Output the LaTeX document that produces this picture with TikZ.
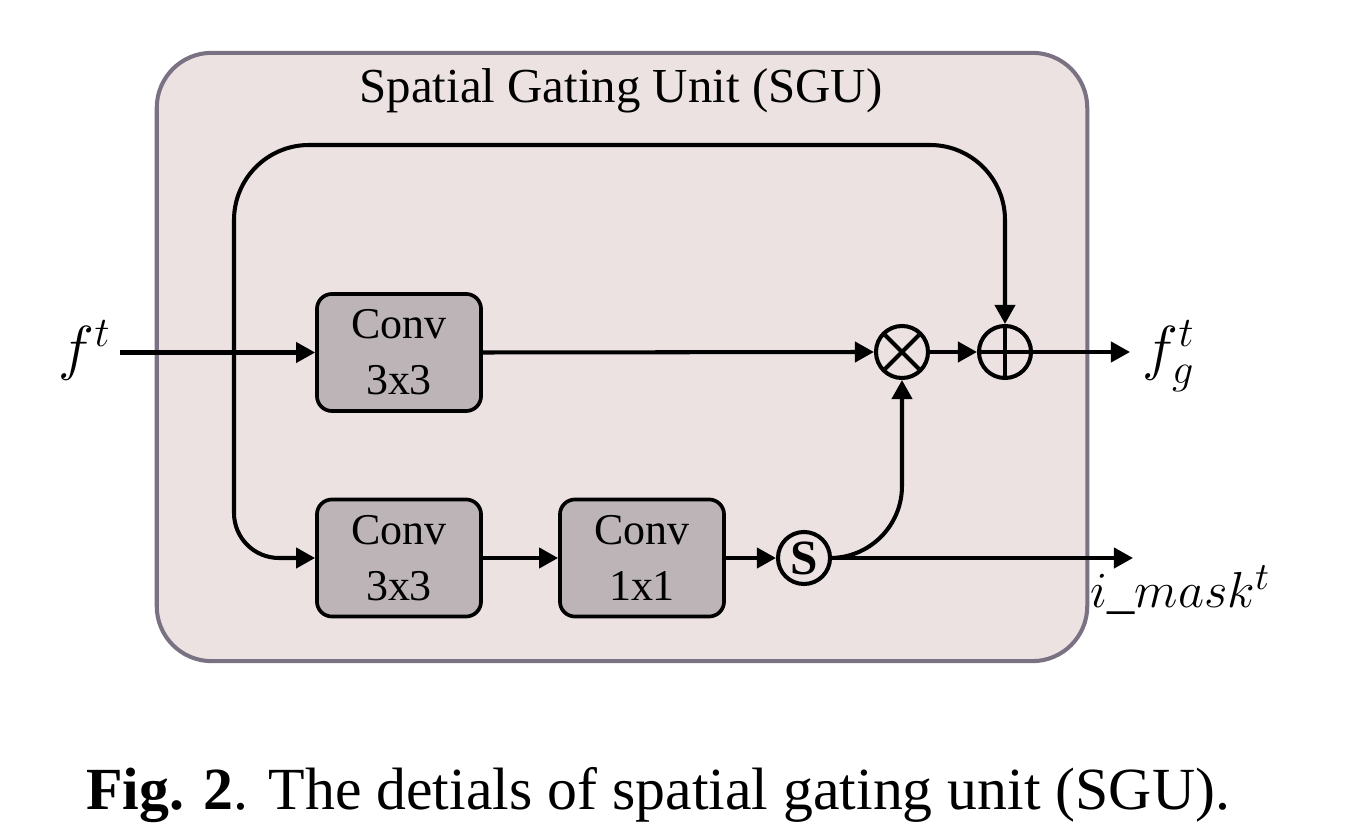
\documentclass[tikz,border=0pt]{standalone}
\usepackage{fontspec}
\setmainfont{Liberation Serif}
\usetikzlibrary{arrows.meta,calc}
\definecolor{bgpink}{HTML}{ECE2E2}
\definecolor{framegray}{HTML}{7A7282}
\definecolor{boxgray}{HTML}{BCB4B7}
\tikzset{
  conn/.style={line width=1.15pt, draw=black},
  arr/.style={conn, -{Triangle[length=0.19cm,width=0.2cm]}},
  convbox/.style={draw=black, line width=1.05pt, fill=boxgray, rounded corners=0.15cm,
    minimum width=1.64cm, minimum height=1.17cm, align=center, font=\fontsize{12.5}{13}\selectfont, inner sep=0pt},
  opnode/.style={circle, draw=black, line width=1.15pt, minimum size=0.52cm, inner sep=0pt},
  lbl/.style={font=\fontsize{17}{19}\selectfont, inner sep=0pt}
}
\begin{document}
\begin{tikzpicture}[x=0.01cm,y=-0.01cm]
\useasboundingbox (0,0) rectangle (1360,834);
\node[draw=framegray, fill=bgpink, line width=1.15pt, rounded corners=0.55cm,
  minimum width=9.3cm, minimum height=6.08cm, inner sep=0pt] (sgu) at (622,357) {};
\node[font=\fontsize{13.9}{16}\selectfont] (title) at (621,91) {Spatial Gating Unit (SGU)};
\node[convbox] (c1) at (399,352.5) {Conv\\[3pt]3x3};
\node[convbox] (c2) at (399,558) {Conv\\[3pt]3x3};
\node[convbox] (c3) at (642,558) {Conv\\[3pt]1x1};
\node[opnode, path picture={\draw[line width=1.15pt] ($(path picture bounding box.north west)+(9,9)$) -- ($(path picture bounding box.south east)+(-9,-9)$);
  \draw[line width=1.15pt] ($(path picture bounding box.south west)+(9,-9)$) -- ($(path picture bounding box.north east)+(-9,9)$);}] (ot) at (902,352) {};
\node[opnode, path picture={\draw[line width=1.15pt] (path picture bounding box.north) -- (path picture bounding box.south);
  \draw[line width=1.15pt] (path picture bounding box.west) -- (path picture bounding box.east);}] (op) at (1005,352) {};
\node[opnode, font=\fontsize{14}{14}\selectfont\bfseries] (s) at (804,558) {S};
\node[lbl, anchor=east] (ft) at (112,350) {$f^t$};
\node[lbl, anchor=west] (fg) at (1142,356) {$f_g^t$};
\node[lbl, anchor=west, font=\fontsize{15.5}{18}\selectfont] (im) at (1090,590) {$i\_mask^t$};
\node[font=\fontsize{17}{20}\selectfont] (cap) at (658,795) {\textbf{Fig. 2}. The detials of spatial gating unit (SGU).};
\coordinate (j) at (234,352.5);
\coordinate (outg) at (1130,352);
\coordinate (outm) at (1133,558);
\draw[arr] (120,352.5) -- (c1.west);
\draw[arr, rounded corners=0.45cm] (j) -- (j |- c2) -- (c2.west);
\draw[arr, rounded corners=0.75cm] (j) -- (234,145) -- (op |- 0,145) -- (op.north);
\draw[arr] (c1.east) -- (ot.west);
\draw[arr] (ot.east) -- (op.west);
\draw[arr] (op.east) -- (outg);
\draw[arr] (c2.east) -- (c3.west);
\draw[arr] (c3.east) -- (s.west);
\draw[arr, rounded corners=0.72cm] (s.east) -- (ot |- s) -- (ot.south);
\draw[arr] (s.east) -- (outm);
\end{tikzpicture}
\end{document}
